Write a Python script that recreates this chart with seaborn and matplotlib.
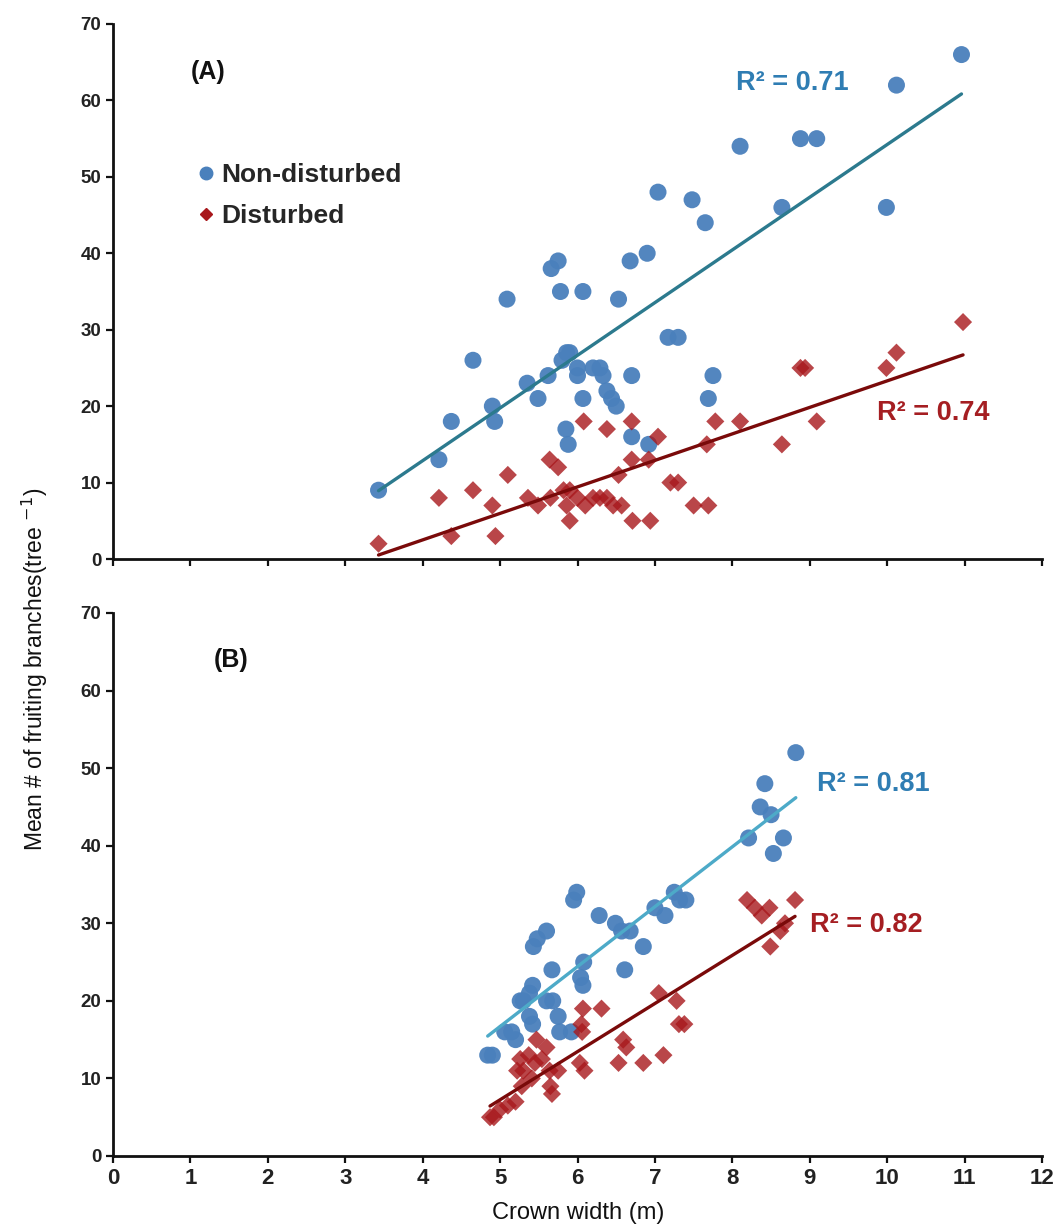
import matplotlib
matplotlib.use("Agg")
import matplotlib.pyplot as plt
import seaborn as sns
import numpy as np
import pandas as pd
from matplotlib.lines import Line2D

# ---------------- data ----------------
a_nd_x = [3.43, 4.21, 4.37, 4.65, 4.90, 4.93, 5.09, 5.35, 5.49, 5.62, 5.66, 5.75, 5.78, 5.80, 5.86, 5.90,
          5.85, 5.88, 6.00, 6.00, 6.07, 6.07, 6.20, 6.29, 6.33, 6.38, 6.44, 6.50, 6.53, 6.68, 6.70, 6.70,
          6.90, 6.92, 7.04, 7.17, 7.30, 7.48, 7.65, 7.75, 7.69, 8.10, 8.64, 8.88, 9.09, 9.99, 10.12, 10.96]
a_nd_y = [9, 13, 18, 26, 20, 18, 34, 23, 21, 24, 38, 39, 35, 26, 27, 27,
          17, 15, 25, 24, 35, 21, 25, 25, 24, 22, 21, 20, 34, 39, 24, 16,
          40, 15, 48, 29, 29, 47, 44, 24, 21, 54, 46, 55, 55, 46, 62, 66]

a_d_x = [3.43, 4.21, 4.37, 4.65, 4.90, 4.94, 5.10, 5.36, 5.49, 5.65, 5.64, 5.75, 5.82, 5.86, 5.90, 5.90,
         6.00, 6.08, 6.10, 6.20, 6.29, 6.38, 6.38, 6.46, 6.53, 6.57, 6.70, 6.70, 6.71, 6.92, 6.94, 7.04,
         7.20, 7.30, 7.50, 7.69, 7.67, 7.78, 8.10, 8.64, 8.88, 8.94, 9.09, 9.99, 10.12, 10.98]
a_d_y = [2, 8, 3, 9, 7, 3, 11, 8, 7, 8, 13, 12, 9, 7, 5, 9,
         8, 18, 7, 8, 8, 17, 8, 7, 11, 7, 18, 13, 5, 13, 5, 16,
         10, 10, 7, 7, 15, 18, 18, 15, 25, 25, 18, 25, 27, 31]

b_nd_x = [4.84, 4.90, 5.06, 5.15, 5.20, 5.26, 5.30, 5.38, 5.42, 5.38, 5.42, 5.43, 5.48, 5.60, 5.60,
          5.68, 5.67, 5.75, 5.77, 5.92, 5.95, 5.99, 6.04, 6.07, 6.08, 6.28, 6.49, 6.57, 6.61, 6.68,
          6.85, 7.00, 7.13, 7.25, 7.32, 7.40, 8.21, 8.36, 8.42, 8.50, 8.53, 8.66, 8.82]
b_nd_y = [13, 13, 16, 16, 15, 20, 20, 18, 17, 21, 22, 27, 28, 29, 20,
          20, 24, 18, 16, 16, 33, 34, 23, 22, 25, 31, 30, 29, 24, 29,
          27, 32, 31, 34, 33, 33, 41, 45, 48, 44, 39, 41, 52]

b_d_x = [4.87, 4.92, 5.00, 5.10, 5.20, 5.22, 5.26, 5.28, 5.30, 5.37, 5.41, 5.45, 5.47, 5.54,
         5.60, 5.64, 5.65, 5.67, 5.75, 6.03, 6.05, 6.06, 6.07, 6.09, 6.31, 6.53, 6.59, 6.63,
         6.85, 7.05, 7.11, 7.28, 7.31, 7.38, 8.19, 8.29, 8.38, 8.48, 8.49, 8.62, 8.68, 8.81]
b_d_y = [5, 5, 6, 6.5, 7, 11, 12.5, 9, 11, 13, 10, 12, 15, 12.5,
         14, 11, 9, 8, 11, 12, 17, 16, 19, 11, 19, 12, 15, 14,
         12, 21, 13, 20, 17, 17, 33, 32, 31, 32, 27, 29, 30, 33]

series_names = ["Non-disturbed", "Disturbed"]
panel_labels = ["(A)", "(B)"]
r2_labels = [["R\u00b2 = 0.71", "R\u00b2 = 0.74"], ["R\u00b2 = 0.81", "R\u00b2 = 0.82"]]
x_ticks = list(range(0, 13))
y_ticks = list(range(0, 80, 10))
x_label = "Crown width (m)"
y_label = "Mean # of fruiting branches(tree $^{-1}$)"

# ---------------- style ----------------
sns.set_theme(style="white")
plt.rcParams["font.family"] = ["Liberation Sans", "DejaVu Sans"]

BLUE = "#4A80BC"
RED = "#A8181C"
BLUE_LINE = ["#2C7A8E", "#4DAAC8"]
RED_LINE = "#7A0A0A"
BLUE_TXT = "#2F7DB3"
RED_TXT = "#A51E22"

W, H = 1061, 1230
fig = plt.figure(figsize=(W / 100, H / 100), dpi=100)
left, right = 113 / W, 1042 / W
axA = fig.add_axes([left, 1 - 559 / H, right - left, (559 - 24) / H])
axB = fig.add_axes([left, 1 - 1156 / H, right - left, (1156 - 613) / H])

panels = [
    (axA, a_nd_x, a_nd_y, a_d_x, a_d_y),
    (axB, b_nd_x, b_nd_y, b_d_x, b_d_y),
]

for i, (ax, nx, ny, dx, dy) in enumerate(panels):
    df_nd = pd.DataFrame({"x": nx, "y": ny})
    df_d = pd.DataFrame({"x": dx, "y": dy})
    sns.regplot(data=df_nd, x="x", y="y", ax=ax, ci=None, marker="o",
                scatter_kws={"s": 150, "color": BLUE, "edgecolor": "none", "alpha": 0.95, "zorder": 3},
                line_kws={"color": BLUE_LINE[i], "lw": 2.4, "zorder": 4})
    sns.regplot(data=df_d, x="x", y="y", ax=ax, ci=None, marker="D",
                scatter_kws={"s": 85, "color": RED, "edgecolor": "none", "zorder": 3},
                line_kws={"color": RED_LINE, "lw": 2.4, "zorder": 4})
    ax.set_xlim(0, 12)
    ax.set_ylim(0, 70)
    ax.set_xticks(x_ticks)
    ax.set_yticks(y_ticks)
    ax.set_xlabel("")
    ax.set_ylabel("")
    for s in ["top", "right"]:
        ax.spines[s].set_visible(False)
    for s in ["left", "bottom"]:
        ax.spines[s].set_color("#111111")
        ax.spines[s].set_linewidth(2.0)
    ax.tick_params(axis="both", direction="out", length=5, width=1.6, colors="#111111",
                   left=True, bottom=True)
    for lab in ax.get_yticklabels():
        lab.set_fontsize(13.5)
        lab.set_fontweight("bold")
        lab.set_color("#222222")
    ax.set_facecolor("white")

axA.set_xticklabels([])
for lab in axB.get_xticklabels():
    lab.set_fontsize(16)
    lab.set_fontweight("bold")
    lab.set_color("#222222")

# panel labels
axA.text(1.0, 63.7, panel_labels[0], fontsize=18, fontweight="bold", color="#111111", va="center")
axB.text(1.3, 63.9, panel_labels[1], fontsize=18, fontweight="bold", color="#111111", va="center")

# R2 labels
axA.text(8.05, 62.3, r2_labels[0][0], fontsize=19.5, fontweight="bold", color=BLUE_TXT, va="center")
axA.text(9.87, 19.1, r2_labels[0][1], fontsize=19.5, fontweight="bold", color=RED_TXT, va="center")
axB.text(9.1, 48.0, r2_labels[1][0], fontsize=19.5, fontweight="bold", color=BLUE_TXT, va="center")
axB.text(9.0, 29.8, r2_labels[1][1], fontsize=19.5, fontweight="bold", color=RED_TXT, va="center")

# legend
handles = [
    Line2D([], [], marker="o", ls="none", color=BLUE, markersize=9),
    Line2D([], [], marker="D", ls="none", color=RED, markersize=6.5),
]
axA.legend(handles, series_names, loc="upper left", bbox_to_anchor=(0.075, 0.759),
           frameon=False, prop={"weight": "bold", "size": 19}, handletextpad=0.05,
           labelspacing=0.64, handlelength=1.0, borderaxespad=0)

# axis labels
fig.text(578 / W, 1 - 1213 / H, x_label, ha="center", va="center", fontsize=17,
         color="#111111")
fig.text(35 / W, 1 - 669 / H, y_label, ha="center", va="center", rotation=90, fontsize=16.5,
         color="#111111")

fig.savefig("out.png", dpi=100, facecolor="white")
